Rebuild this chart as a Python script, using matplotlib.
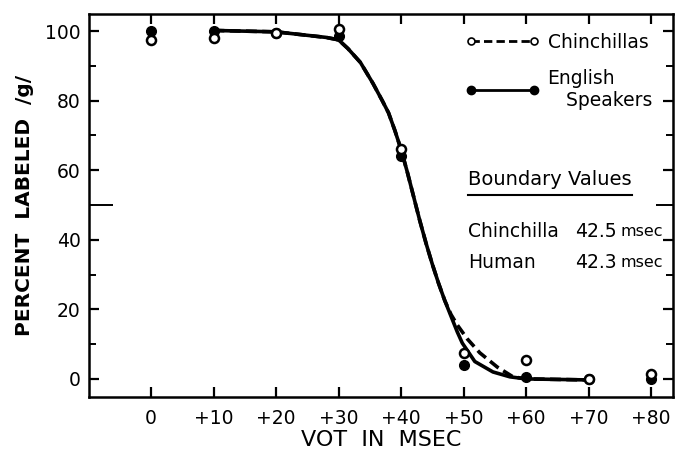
import numpy as np
import matplotlib
matplotlib.use('Agg')
import matplotlib.pyplot as plt
from matplotlib.lines import Line2D

plt.rcParams['font.family'] = ['DejaVu Sans']

# measured points (VOT in msec, percent labeled /g/)
vot = [0, 10, 20, 30, 40, 50, 60, 70, 80]
chin_pts = [97.5, 98, 99.5, 100.5, 66, 7.5, 5.5, 0, 1.5]
eng_pts = [100, 100, 99.5, 98.5, 64, 4, 0.5, 0, 0]

# fitted curves
eng_curve_x = [10, 20, 22, 28, 30, 31.5, 33.5, 35.5, 37, 38, 39, 40, 41, 42, 43, 44,
               45, 46, 47, 48, 49, 49.8, 51.8, 54.7, 57.4, 60, 70]
eng_curve_y = [100.2, 99.8, 99.4, 98.2, 97.5, 95, 91, 85, 80, 76.5, 71.5, 66, 59.5,
               52.5, 45.5, 39, 33, 27.5, 22.5, 18, 13.5, 10.3, 5, 2, 0.6, 0, -0.3]
chin_curve_x = [10, 20, 22, 28, 30, 31.5, 33.5, 35.5, 37, 38, 39, 40, 41, 42, 43, 44,
                45, 46, 47, 48, 49, 50.6, 52.6, 55.4, 57.9, 60, 70]
chin_curve_y = [100.2, 99.8, 99.4, 98.2, 97.5, 95, 91, 85, 80, 76.5, 71.5, 66, 59.5,
                52.5, 45.5, 39, 33, 27.5, 22.5, 18.5, 15.5, 11.5, 7.5, 3.4, 0.6, 0, -0.3]

boundary_names = ['Chinchilla', 'Human']
boundary_ms = [42.5, 42.3]

fig = plt.figure(figsize=(6.75, 4.55), dpi=100)
ax = fig.add_axes([0.132, 0.1275, 0.865, 0.8415])

ax.plot(chin_curve_x, chin_curve_y, color='black', lw=2.6, ls=(0, (3, 1.5)))
ax.plot(eng_curve_x, eng_curve_y, color='black', lw=2.6)
ax.plot(vot, chin_pts, 'o', ms=6.5, mfc='white', mec='black', mew=1.8, zorder=4)
ax.plot(vot, eng_pts, 'o', ms=7, color='black', zorder=3)

ax.set_xlim(-9.9, 83.5)
ax.set_ylim(-5.2, 104.9)
ax.set_xticks(vot)
ax.set_xticklabels(['0'] + ['+%d' % v for v in vot[1:]])
ax.set_yticks([0, 20, 40, 60, 80, 100])
ax.set_yticks([10, 30, 50, 70, 90], minor=True)

for s in ax.spines.values():
    s.set_linewidth(1.8)

ax.tick_params(axis='both', which='major', direction='in', length=7, width=1.6,
               labelsize=13.5, top=True, right=True, pad=6)
ax.tick_params(axis='both', which='minor', direction='in', length=5, width=1.4,
               right=True)
ax.tick_params(axis='x', pad=9)

# the long mark at 50 on both sides
t50 = ax.yaxis.get_minor_ticks()[2]
t50.tick1line.set_markersize(17)
t50.tick2line.set_markersize(12)

ax.set_xlabel('VOT  IN  MSEC', fontsize=16, labelpad=1)
ax.set_ylabel('PERCENT  LABELED  /g/', fontsize=14.5, fontweight='bold', labelpad=8)

handles = [Line2D([], [], color='black', lw=2, ls=(0, (3, 1.5)), marker='o', ms=5,
                  mfc='white', mec='black', mew=1.2),
           Line2D([], [], color='black', lw=2, marker='o', ms=6)]
ax.legend(handles, ['Chinchillas', 'English\n   Speakers'], numpoints=2, frameon=False,
          fontsize=13.5, loc='upper left', bbox_to_anchor=(0.615, 0.995),
          handlelength=4.0, handletextpad=0.4, labelspacing=0.9)

ax.text(0.649, 0.567, 'Boundary Values', transform=ax.transAxes, fontsize=14,
        va='center')
ax.plot([0.649, 0.93], [0.527, 0.527], color='black', lw=1.5, transform=ax.transAxes)
for i, (name, ms) in enumerate(zip(boundary_names, boundary_ms)):
    yy = 0.431 - i * 0.081
    ax.text(0.649, yy, name, transform=ax.transAxes, fontsize=13.5, va='center')
    ax.text(0.832, yy, '%.1f' % ms, transform=ax.transAxes, fontsize=13.5,
            va='center')
    ax.text(0.91, yy, 'msec', transform=ax.transAxes, fontsize=11.5, va='center')

fig.savefig('out.png', dpi=100)
